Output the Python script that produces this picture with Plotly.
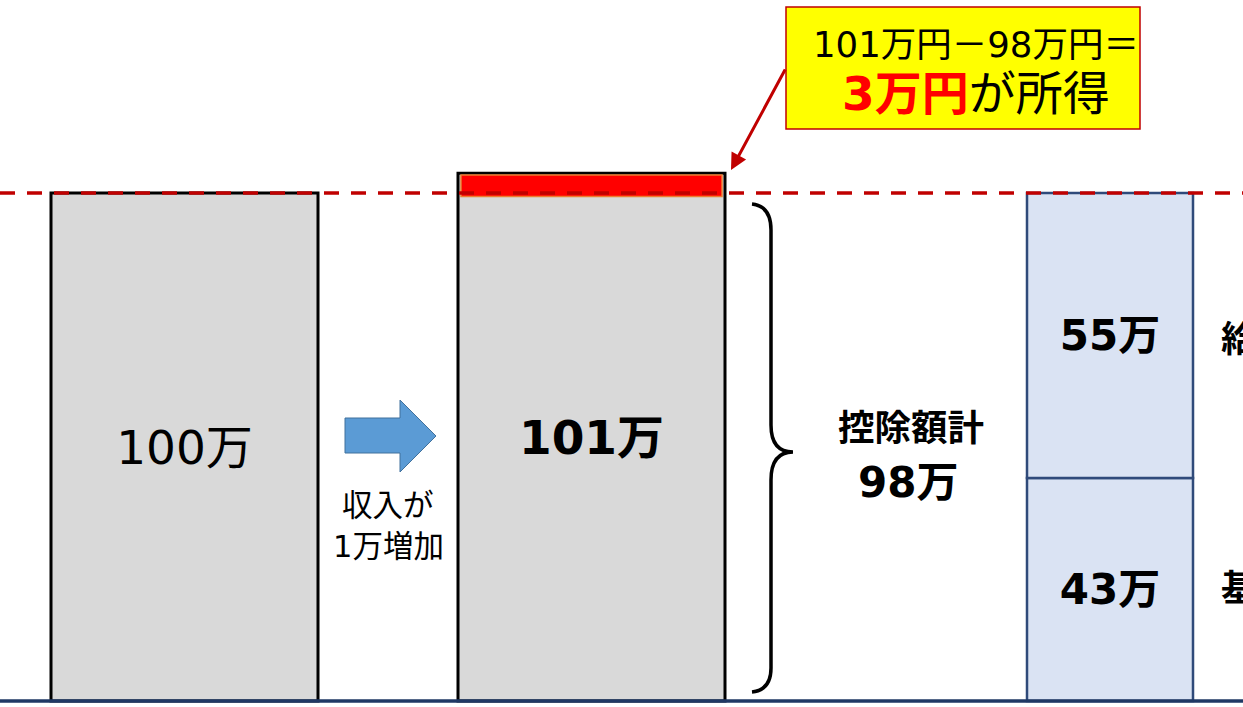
import plotly.graph_objects as go

# ---------------- data ----------------
income_before = 100          # 万円
income_after = 101           # 万円
deduction_names = ["基礎控除", "給与所得控除"]
deduction_values = [43, 55]  # 万円
income_increase = income_after - income_before
deduction_total = sum(deduction_values)          # 98
taxable_income = income_after - deduction_total  # 3

# ---------------- styling helpers ----------------
W, H = 1243, 707
EMPH = 3.9  # visual exaggeration of the small income increase
FONT = "DejaVu Sans, Noto Sans CJK JP"
JP = "Noto Sans CJK JP"


def yp(py):
    """pixel row -> paper fraction (decorations only)"""
    return 1 - py / H


fig = go.Figure()

# income bars (before / after)
fig.add_trace(go.Bar(
    x=[184.5, 591.5],
    y=[income_before, income_before + income_increase * EMPH],
    width=[267, 267],
    marker=dict(color="#D9D9D9", line=dict(color="black", width=3)),
    text=[f"{income_before}万", f"<b>{income_after}万</b>"],
    textposition="inside", insidetextanchor="middle", textangle=0,
    insidetextfont=dict(family=FONT, size=47, color="black"),
    hoverinfo="skip", showlegend=False,
))
# red band = increase on top of the second bar
fig.add_trace(go.Bar(
    x=[591.5], base=[income_before - 0.7], y=[income_increase * EMPH + 0.7 - 0.35],
    width=[261],
    marker=dict(color="#FF0000", line=dict(color="#ED7D31", width=1.5)),
    hoverinfo="skip", showlegend=False,
))
# stacked deductions
base = 0
for name, v in zip(deduction_names, deduction_values):
    fig.add_trace(go.Bar(
        x=[1110], base=[base], y=[v], width=[166], yaxis="y2",
        marker=dict(color="#DAE3F3", line=dict(color="#2F4A7A", width=2.5)),
        text=[f"<b>{v}万</b>"], textposition="inside",
        insidetextanchor="middle", textangle=0,
        insidetextfont=dict(family=FONT, size=42, color="black"),
        hoverinfo="skip", showlegend=False, name=name,
    ))
    base += v

k = deduction_total / income_before
yr = [-1.18, 138.0]
fig.update_layout(
    width=W, height=H, margin=dict(l=0, r=0, t=0, b=0),
    paper_bgcolor="white", plot_bgcolor="white",
    barmode="overlay", bargap=0,
    xaxis=dict(range=[0, W], visible=False, fixedrange=True),
    yaxis=dict(range=yr, visible=False, fixedrange=True),
    yaxis2=dict(range=[yr[0] * k, yr[1] * k], visible=False,
                overlaying="y", fixedrange=True),
    hovermode=False,
)

shapes = []
# baseline
shapes.append(dict(type="line", xref="paper", yref="y", x0=0, x1=1, y0=0, y1=0,
                   line=dict(color="#1F3864", width=3.5), layer="above"))
# dashed reference line at previous income level
shapes.append(dict(type="line", xref="paper", yref="y", x0=0, x1=1,
                   y0=income_before, y1=income_before,
                   line=dict(color="#C00000", width=3.5, dash="15px,12px"),
                   layer="above"))
# curly brace
bp = [(752, 204), (771, 206), (771, 230), (771, 425), (771, 452), (793, 452),
      (771, 452), (771, 480), (771, 668), (771, 690), (752, 692)]
b = [(x, yp(y)) for x, y in bp]
path = (f"M {b[0][0]} {b[0][1]} Q {b[1][0]} {b[1][1]} {b[2][0]} {b[2][1]} "
        f"L {b[3][0]} {b[3][1]} Q {b[4][0]} {b[4][1]} {b[5][0]} {b[5][1]} "
        f"Q {b[6][0]} {b[6][1]} {b[7][0]} {b[7][1]} L {b[8][0]} {b[8][1]} "
        f"Q {b[9][0]} {b[9][1]} {b[10][0]} {b[10][1]}")
shapes.append(dict(type="path", xref="x", yref="paper", path=path,
                   line=dict(color="black", width=3.5)))
# blue block arrow
ap = [(345, 418), (400, 418), (400, 400), (436, 436), (400, 472), (400, 453), (345, 453)]
apath = "M " + " L ".join(f"{x} {yp(y)}" for x, y in ap) + " Z"
shapes.append(dict(type="path", xref="x", yref="paper", path=apath,
                   fillcolor="#5B9BD5", line=dict(color="#41719C", width=1)))
# callout box
shapes.append(dict(type="rect", xref="x", yref="paper", x0=786, x1=1140,
                   y0=yp(129), y1=yp(7), fillcolor="#FFFF00",
                   line=dict(color="#C00000", width=1.5)))
fig.update_layout(shapes=shapes)

ann = []


def txt(x, y, s, size, bold=False, color="black", xanchor="center", family=FONT):
    ann.append(dict(xref="x", yref="paper", x=x, y=yp(y), text=(f"<b>{s}</b>" if bold else s),
                    showarrow=False, xanchor=xanchor, yanchor="middle",
                    font=dict(family=family, size=size, color=color)))


txt(976, 44, f"{income_after}万円－{deduction_total}万円＝", 35.5)
txt(976, 93, f"<span style='color:#FF0000'><b>{taxable_income}万円</b></span>が所得", 47)
txt(388, 506, "収入が", 30.5)
txt(388, 546, f"{income_increase}万増加", 30.5)
txt(911, 428, "控除額計", 36.5, bold=True)
txt(908, 482, f"{deduction_total}万", 42, bold=True)
txt(1219, 336, deduction_names[1], 36, bold=True, xanchor="left", family=JP)
txt(1219, 585, deduction_names[0], 36, bold=True, xanchor="left", family=JP)

# callout arrow
ann.append(dict(xref="x", yref="paper", x=731, y=yp(170), ax=55, ay=-102,
                axref="pixel", ayref="pixel", text="", showarrow=True,
                arrowhead=2, arrowsize=1.1, arrowwidth=3, arrowcolor="#C00000"))
fig.update_layout(annotations=ann)

fig.write_html("out.html", config=dict(displayModeBar=False, staticPlot=True),
               post_script="document.body.style.margin='0';document.body.style.overflow='hidden';")
